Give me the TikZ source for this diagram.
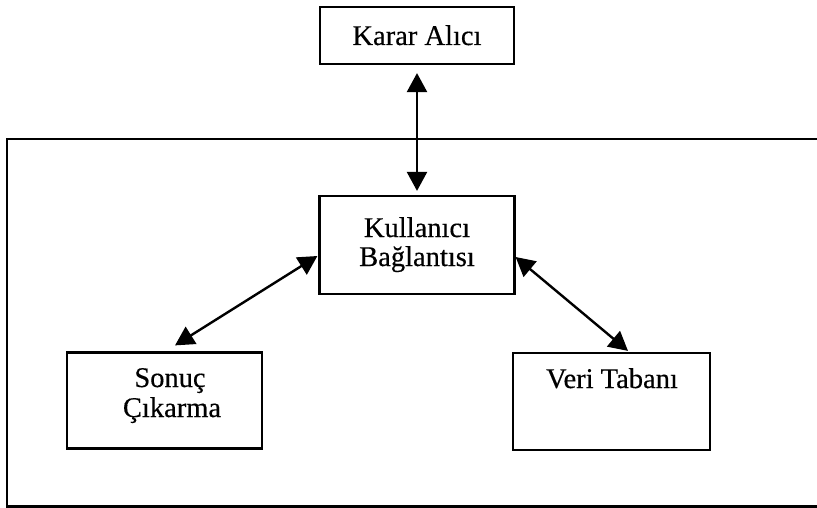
\documentclass[tikz,border=0pt]{standalone}
\usepackage{fontspec}
\setmainfont[FakeBold=0.4,AutoFakeBold=0.4]{Liberation Serif}
\usetikzlibrary{arrows.meta}
\begin{document}
\begin{tikzpicture}[x=1pt,y=-1pt,
  box/.style={draw, line width=2.2pt, inner sep=0pt},
  lbl/.style={inner sep=0pt, anchor=base, font=\fontsize{28.5}{30}\selectfont\bfseries},
  link/.style={line width=2.4pt, {Triangle[length=19pt,width=20pt]}-{Triangle[length=19pt,width=20pt]}}]
  \useasboundingbox (0,0) rectangle (817,508);

  % system frame, open to the right
  \draw[line width=2.2pt] (820,139) -- (7,139) -- (7,506.5) -- (820,506.5);

  % boxes
  \node[box, minimum width=194pt, minimum height=57pt] (karar) at (417,35.5) {};
  \node[box, minimum width=195pt, minimum height=98pt] (kul) at (417,245) {};
  \node[box, minimum width=195pt, minimum height=96pt] (sonuc) at (164.5,400.5) {};
  \node[box, minimum width=197pt, minimum height=97pt] (veri) at (611.5,401.5) {};

  % labels
  \node[lbl] (kararT) at (417,45) {Karar Alıcı};
  \node[lbl] (kulA) at (417,237) {Kullanıcı};
  \node[lbl] (kulB) at (417,266) {Bağlantısı};
  \node[lbl] (sonucA) at (170,387) {Sonuç};
  \node[lbl] (sonucB) at (172,417) {Çıkarma};
  \node[lbl] (veriT) at (612,388) {Veri Tabanı};

  % connectors
  \draw[link] ([yshift=-8pt]karar.south) -- ([yshift=4pt]kul.north);
  \draw[link] ([xshift=10.5pt,yshift=6pt]sonuc.north) -- ([xshift=-1pt,yshift=-11pt]kul.west);
  \draw[link] ([yshift=-12pt]kul.east) -- ([xshift=16.5pt,yshift=1pt]veri.north);
\end{tikzpicture}
\end{document}
